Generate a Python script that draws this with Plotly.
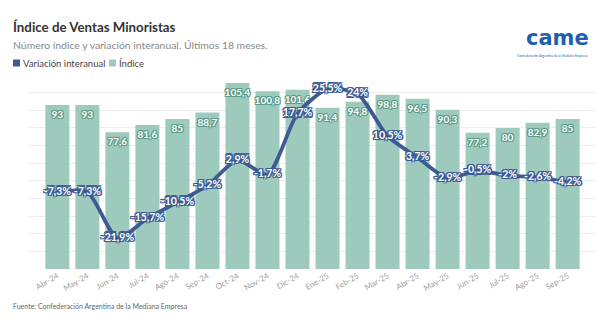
import plotly.graph_objects as go

# Monthly retail sales data (CAME)
meses = ["Abr-24", "May-24", "Jun-24", "Jul-24", "Ago-24", "Sep-24", "Oct-24", "Nov-24",
         "Dic-24", "Ene-25", "Feb-25", "Mar-25", "Abr-25", "May-25", "Jun-25", "Jul-25",
         "Ago-25", "Sep-25"]
indice = [93, 93, 77.6, 81.6, 85, 88.7, 105.4, 100.8, 101.6, 91.4, 94.8, 98.8, 96.5,
          90.3, 77.2, 80, 82.9, 85]
variacion = [-7.3, -7.3, -21.9, -15.7, -10.5, -5.2, 2.9, -1.7, 17.7, 25.5, 24, 10.5, 3.7,
             -2.9, -0.5, -2, -2.6, -4.2]
series_names = ["Variación interanual", "Índice"]

BAR = "#9ecabe"
BAR_DARK = "#5d9c8a"
LINE = "#3d5b93"
FONT = "Lato"

W, H = 599, 324
L, R, T, B = 29, 3, 75, 55
PW, PH = W - L - R, H - T - B


def px(x):
    return (x - L) / PW


def py(y):
    return (H - B - y) / PH


def fmt(v):
    return f"{v:g}".replace(".", ",")


def outline(color, r=1):
    offs = [(-r, 0), (r, 0), (0, -r), (0, r), (-r, -r), (r, r), (-r, r), (r, -r)]
    return ", ".join(f"{a}px {b}px 0px {color}" for a, b in offs)


fig = go.Figure()

fig.add_trace(go.Bar(
    x=meses, y=indice, marker_color=BAR, marker_line_width=0,
    text=[fmt(v) for v in indice], textposition="inside", insidetextanchor="end",
    textangle=0, constraintext="none",
    textfont=dict(family=FONT, size=10, color="white", weight="bold",
                  shadow=outline(BAR_DARK)),
    showlegend=False, hoverinfo="skip", cliponaxis=False,
))

fig.add_trace(go.Scatter(
    x=meses, y=variacion, yaxis="y2", mode="lines+text",
    line=dict(color=LINE, width=3.8, shape="spline", smoothing=0.7),
    text=[fmt(v) + "%" for v in variacion], textposition="middle center",
    textfont=dict(family=FONT, size=10.5, color="white", weight="bold",
                  shadow=outline(LINE, 1.3)),
    showlegend=False, hoverinfo="skip", cliponaxis=False,
))

fig.update_layout(
    width=W, height=H,
    margin=dict(l=L, r=R, t=T, b=B),
    paper_bgcolor="white", plot_bgcolor="white",
    separators=",.",
    bargap=0.2,
    font=dict(family=FONT, color="#555"),
    showlegend=False,
    xaxis=dict(tickangle=-30, tickfont=dict(family=FONT, size=8, color="#a0a0a0"),
               showgrid=False, showline=False, ticks="", fixedrange=True),
    yaxis=dict(range=[0, 110], dtick=10, showticklabels=False, gridcolor="#eeeeee",
               gridwidth=1, zeroline=False),
    yaxis2=dict(range=[-31.8, 30], overlaying="y", side="right", showticklabels=False,
                showgrid=False, zeroline=False),
)

# legend: colour squares with labels
legend_items = [(series_names[0], LINE, 13), (series_names[1], BAR, 109)]
for name, col, x0 in legend_items:
    fig.add_shape(type="rect", xref="paper", yref="paper",
                  x0=px(x0), x1=px(x0 + 7), y0=py(66.5), y1=py(59.5),
                  fillcolor=col, line_width=0)
    fig.add_annotation(xref="paper", yref="paper", xanchor="left", yanchor="middle",
                       showarrow=False, text=name, x=px(x0 + 8), y=py(63),
                       font=dict(size=9.5, color="#444"))

ann = [
    dict(text="<b>Índice de Ventas Minoristas</b>", x=px(11), y=py(27),
         font=dict(size=13.3, color="#333")),
    dict(text="Número índice y variación interanual. Últimos 18 meses.", x=px(11), y=py(45),
         font=dict(size=10.4, color="#888")),
    dict(text="Fuente: Confederación Argentina de la Mediana Empresa", x=px(11), y=py(306),
         font=dict(size=7, color="#666")),
    dict(text="<b>came</b>", x=px(524), y=py(38),
         font=dict(family="DejaVu Sans", size=21, color="#1f5fae")),
    dict(text="Confederación Argentina de la Mediana Empresa", x=px(515), y=py(56),
         font=dict(size=3.3, color="#1f5fae")),
]
for a in ann:
    fig.add_annotation(xref="paper", yref="paper", xanchor="left", yanchor="middle",
                       showarrow=False, **a)

fig.write_html("out.html")
